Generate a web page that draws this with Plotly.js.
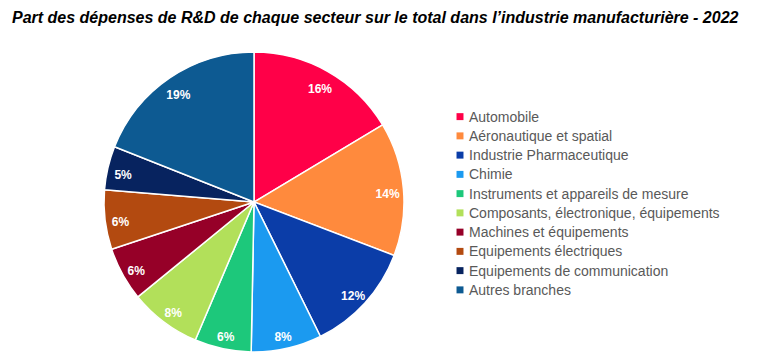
<!DOCTYPE html>
<html>
<head>
<meta charset="utf-8">
<script src="https://cdn.plot.ly/plotly-3.0.1.min.js"></script>
<style>html,body{margin:0;padding:0;background:#fff;}#chart{width:773px;height:358px;}</style>
</head>
<body>
<div id="chart"></div>
<script>
const sectors = [
  "Automobile",
  "Aéronautique et spatial",
  "Industrie Pharmaceutique",
  "Chimie",
  "Instruments et appareils de mesure",
  "Composants, électronique, équipements",
  "Machines et équipements",
  "Equipements électriques",
  "Equipements de communication",
  "Autres branches"
];
const shares = [16.4, 14.4, 11.9, 7.6, 6.1, 7.7, 5.8, 6.4, 4.7, 19.0];
const colors = ["#FF0048", "#FF8A3D", "#0B3DA8", "#1B9AF0", "#1DC87B", "#B2E05A", "#960028", "#B34A10", "#07235F", "#0D5A92"];
const titleText = "Part des dépenses de R&D de chaque secteur sur le total dans l’industrie manufacturière - 2022";

const W = 773, H = 358;
const cx = 254, cy = 202, r = 150;
const domain = {x: [(cx - r) / W, (cx + r) / W], y: [1 - (cy + r) / H, 1 - (cy - r) / H]};
const labelDy = 4;
const labelDomain = {x: domain.x, y: [1 - (cy + labelDy + r) / H, 1 - (cy + labelDy - r) / H]};
const legendLabels = sectors.map(s => '<span style="font-size:14px">' + s + '</span>');

const data = [
  {
    type: "pie",
    labels: legendLabels,
    values: shares,
    sort: false,
    direction: "clockwise",
    rotation: 0,
    marker: {colors: colors, line: {color: "#ffffff", width: 1.5}},
    textinfo: "none",
    hoverinfo: "percent",
    domain: domain
  },
  {
    type: "pie",
    labels: legendLabels,
    values: shares,
    sort: false,
    direction: "clockwise",
    rotation: 0,
    hole: 0.79,
    showlegend: false,
    marker: {colors: colors.map(() => "rgba(0,0,0,0)"), line: {width: 0}},
    texttemplate: "%{percent:.0%}",
    textposition: "inside",
    insidetextorientation: "horizontal",
    textfont: {family: "Liberation Sans, Arial, sans-serif", size: 12, color: "#ffffff", weight: "bold"},
    hoverinfo: "skip",
    domain: labelDomain
  }
];

const layout = {
  width: W, height: H,
  margin: {l: 0, r: 0, t: 0, b: 0},
  paper_bgcolor: "#ffffff",
  title: {
    text: "<b><i>" + titleText.replace("&", "&amp;") + "</i></b>",
    font: {family: "Liberation Sans Narrow, Arial Narrow, sans-serif", size: 16, color: "#000000"},
    x: 12 / W, xanchor: "left", xref: "container",
    y: 1 - 17 / H, yanchor: "middle", yref: "container"
  },
  showlegend: true,
  legend: {
    x: 429 / W, xanchor: "left",
    y: 1 - 102 / H, yanchor: "top",
    font: {family: "Liberation Sans, Arial, sans-serif", size: 12.5, color: "#595959"},
    bgcolor: "rgba(0,0,0,0)",
    tracegroupgap: 0
  }
};

Plotly.newPlot("chart", data, layout, {displayModeBar: false, staticPlot: true}).then(() => {
  document.querySelectorAll("#chart .legend path.legendpie").forEach(p => {
    const t = p.getAttribute("transform") || "";
    p.setAttribute("transform", t + " translate(11,0) scale(0.58)");
    p.style.strokeWidth = "0";
  });
});
</script>
</body>
</html>
